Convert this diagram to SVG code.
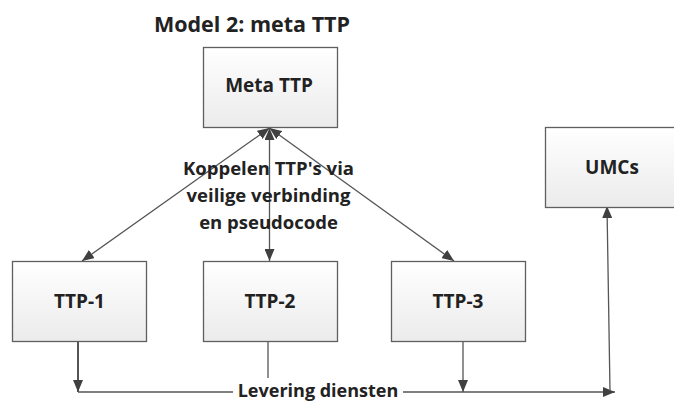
<svg xmlns="http://www.w3.org/2000/svg" width="674" height="401" viewBox="0 0 674 401">
<defs>
<linearGradient id="g" x1="0" y1="0" x2="0" y2="1">
<stop offset="0" stop-color="#ffffff"/>
<stop offset="1" stop-color="#ebebeb"/>
</linearGradient>
<marker id="ah" viewBox="0 0 12 10" refX="12" refY="5" markerWidth="12" markerHeight="10" markerUnits="userSpaceOnUse" orient="auto-start-reverse">
<path d="M0,0 L12,5 L0,10 Z" fill="#404040"/>
</marker>
<style>
.box{fill:url(#g);stroke:#5f5f5f;stroke-width:1.3}
.lbl{font-family:"Open Sans","Liberation Sans",sans-serif;font-weight:700;fill:#222;text-anchor:middle}
.ln{fill:none;stroke:#555;stroke-width:1.3}
</style>
</defs>
<rect width="674" height="401" fill="#ffffff"/>
<text class="lbl" x="252" y="32" style="font-size:21.5px">Model 2: meta TTP</text>
<g id="connectors">
<path class="ln" d="M269.5,128 L82,261" marker-start="url(#ah)" marker-end="url(#ah)"/>
<path class="ln" d="M269.5,128 L269.5,261" marker-start="url(#ah)" marker-end="url(#ah)"/>
<path class="ln" d="M269.5,128 L454,261" marker-start="url(#ah)" marker-end="url(#ah)"/>
<path class="ln" d="M78,339 L78,392" style="stroke-width:2" marker-end="url(#ah)"/>
<path class="ln" d="M268,342 L268,378"/>
<path class="ln" d="M463,342 L463,392" marker-end="url(#ah)"/>
<path class="ln" d="M78,392 L233,392 M403,392 L615,392" marker-end="url(#ah)"/>
<path class="ln" d="M610,391 L607,206" marker-end="url(#ah)"/>
</g>
<g id="meta">
<rect class="box" x="203.5" y="47.5" width="134" height="80"/>
<text class="lbl" x="269" y="92" style="font-size:19px">Meta TTP</text>
</g>
<g id="ttp1">
<rect class="box" x="12.5" y="261.5" width="134" height="80"/>
<text class="lbl" x="79.5" y="308" style="font-size:19px">TTP-1</text>
</g>
<g id="ttp2">
<rect class="box" x="203.5" y="261.5" width="134" height="80"/>
<text class="lbl" x="270" y="308" style="font-size:19px">TTP-2</text>
</g>
<g id="ttp3">
<rect class="box" x="391.5" y="261.5" width="134" height="80"/>
<text class="lbl" x="458" y="308" style="font-size:19px">TTP-3</text>
</g>
<g id="umcs">
<rect class="box" x="545.5" y="127.5" width="134" height="80"/>
<text class="lbl" x="612" y="174" style="font-size:19px">UMCs</text>
</g>
<g id="labels">
<text class="lbl" style="font-size:18.5px"><tspan x="268.5" y="175">Koppelen TTP's via</tspan><tspan x="268.5" y="202">veilige verbinding</tspan><tspan x="268.5" y="229">en pseudocode</tspan></text>
<text class="lbl" x="318" y="397" style="font-size:18px">Levering diensten</text>
</g>
</svg>
